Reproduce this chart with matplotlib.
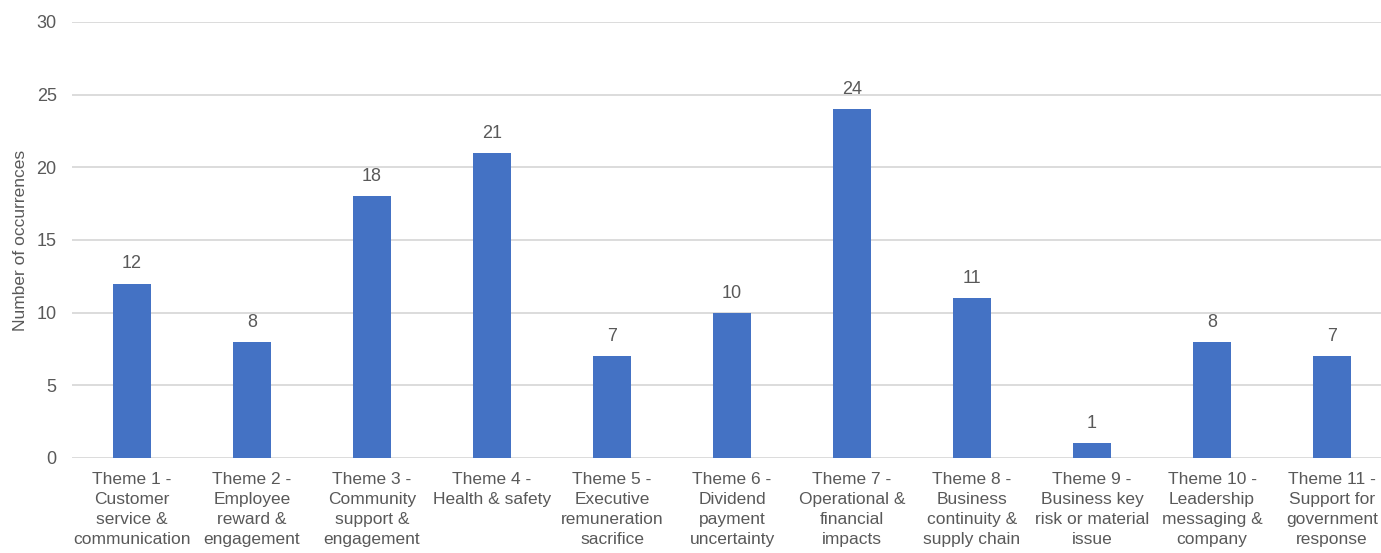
import matplotlib
matplotlib.use('Agg')
import matplotlib.pyplot as plt
import numpy as np

# Data
themes = [
    'Theme 1 -\nCustomer\nservice &\ncommunication',
    'Theme 2 -\nEmployee\nreward &\nengagement',
    'Theme 3 -\nCommunity\nsupport &\nengagement',
    'Theme 4 -\nHealth & safety',
    'Theme 5 -\nExecutive\nremuneration\nsacrifice',
    'Theme 6 -\nDividend\npayment\nuncertainty',
    'Theme 7 -\nOperational &\nfinancial\nimpacts',
    'Theme 8 -\nBusiness\ncontinuity &\nsupply chain',
    'Theme 9 -\nBusiness key\nrisk or material\nissue',
    'Theme 10 -\nLeadership\nmessaging &\ncompany',
    'Theme 11 -\nSupport for\ngovernment\nresponse',
]
occurrences = [12, 8, 18, 21, 7, 10, 24, 11, 1, 8, 7]
y_ticks = [0, 5, 10, 15, 20, 25, 30]

bar_color = '#4472C4'
text_color = '#595959'
grid_color = '#D9D9D9'

plt.rcParams['font.family'] = ['Liberation Sans', 'DejaVu Sans']

fig = plt.figure(figsize=(13.81, 5.53), dpi=100)
ax = fig.add_axes([72 / 1381, 95 / 553, 1320 / 1381, 436 / 553])

x = np.arange(len(themes))
bars = ax.bar(x, occurrences, width=0.32, color=bar_color, zorder=3)

for rect, val in zip(bars, occurrences):
    ax.annotate(str(val), (rect.get_x() + rect.get_width() / 2, rect.get_height()),
                xytext=(0, 8), textcoords='offset points',
                ha='center', va='bottom', fontsize=13, color=text_color)

ax.set_xlim(-0.5, len(themes) - 0.5)
ax.set_ylim(0, 30)
ax.set_yticks(y_ticks)
ax.set_xticks(x)
ax.set_xticklabels(themes, fontsize=12.5, color=text_color, linespacing=1.42)
ax.tick_params(axis='both', length=0)
ax.tick_params(axis='y', labelsize=13, labelcolor=text_color, pad=11)
ax.tick_params(axis='x', pad=10)

ax.yaxis.grid(True, color=grid_color, linewidth=1.3, zorder=0)
for side in ['top', 'right', 'left', 'bottom']:
    ax.spines[side].set_visible(False)

ax.set_ylabel('Number of occurrences', fontsize=12.5, color=text_color, labelpad=6)

fig.savefig('out.png', dpi=100)
